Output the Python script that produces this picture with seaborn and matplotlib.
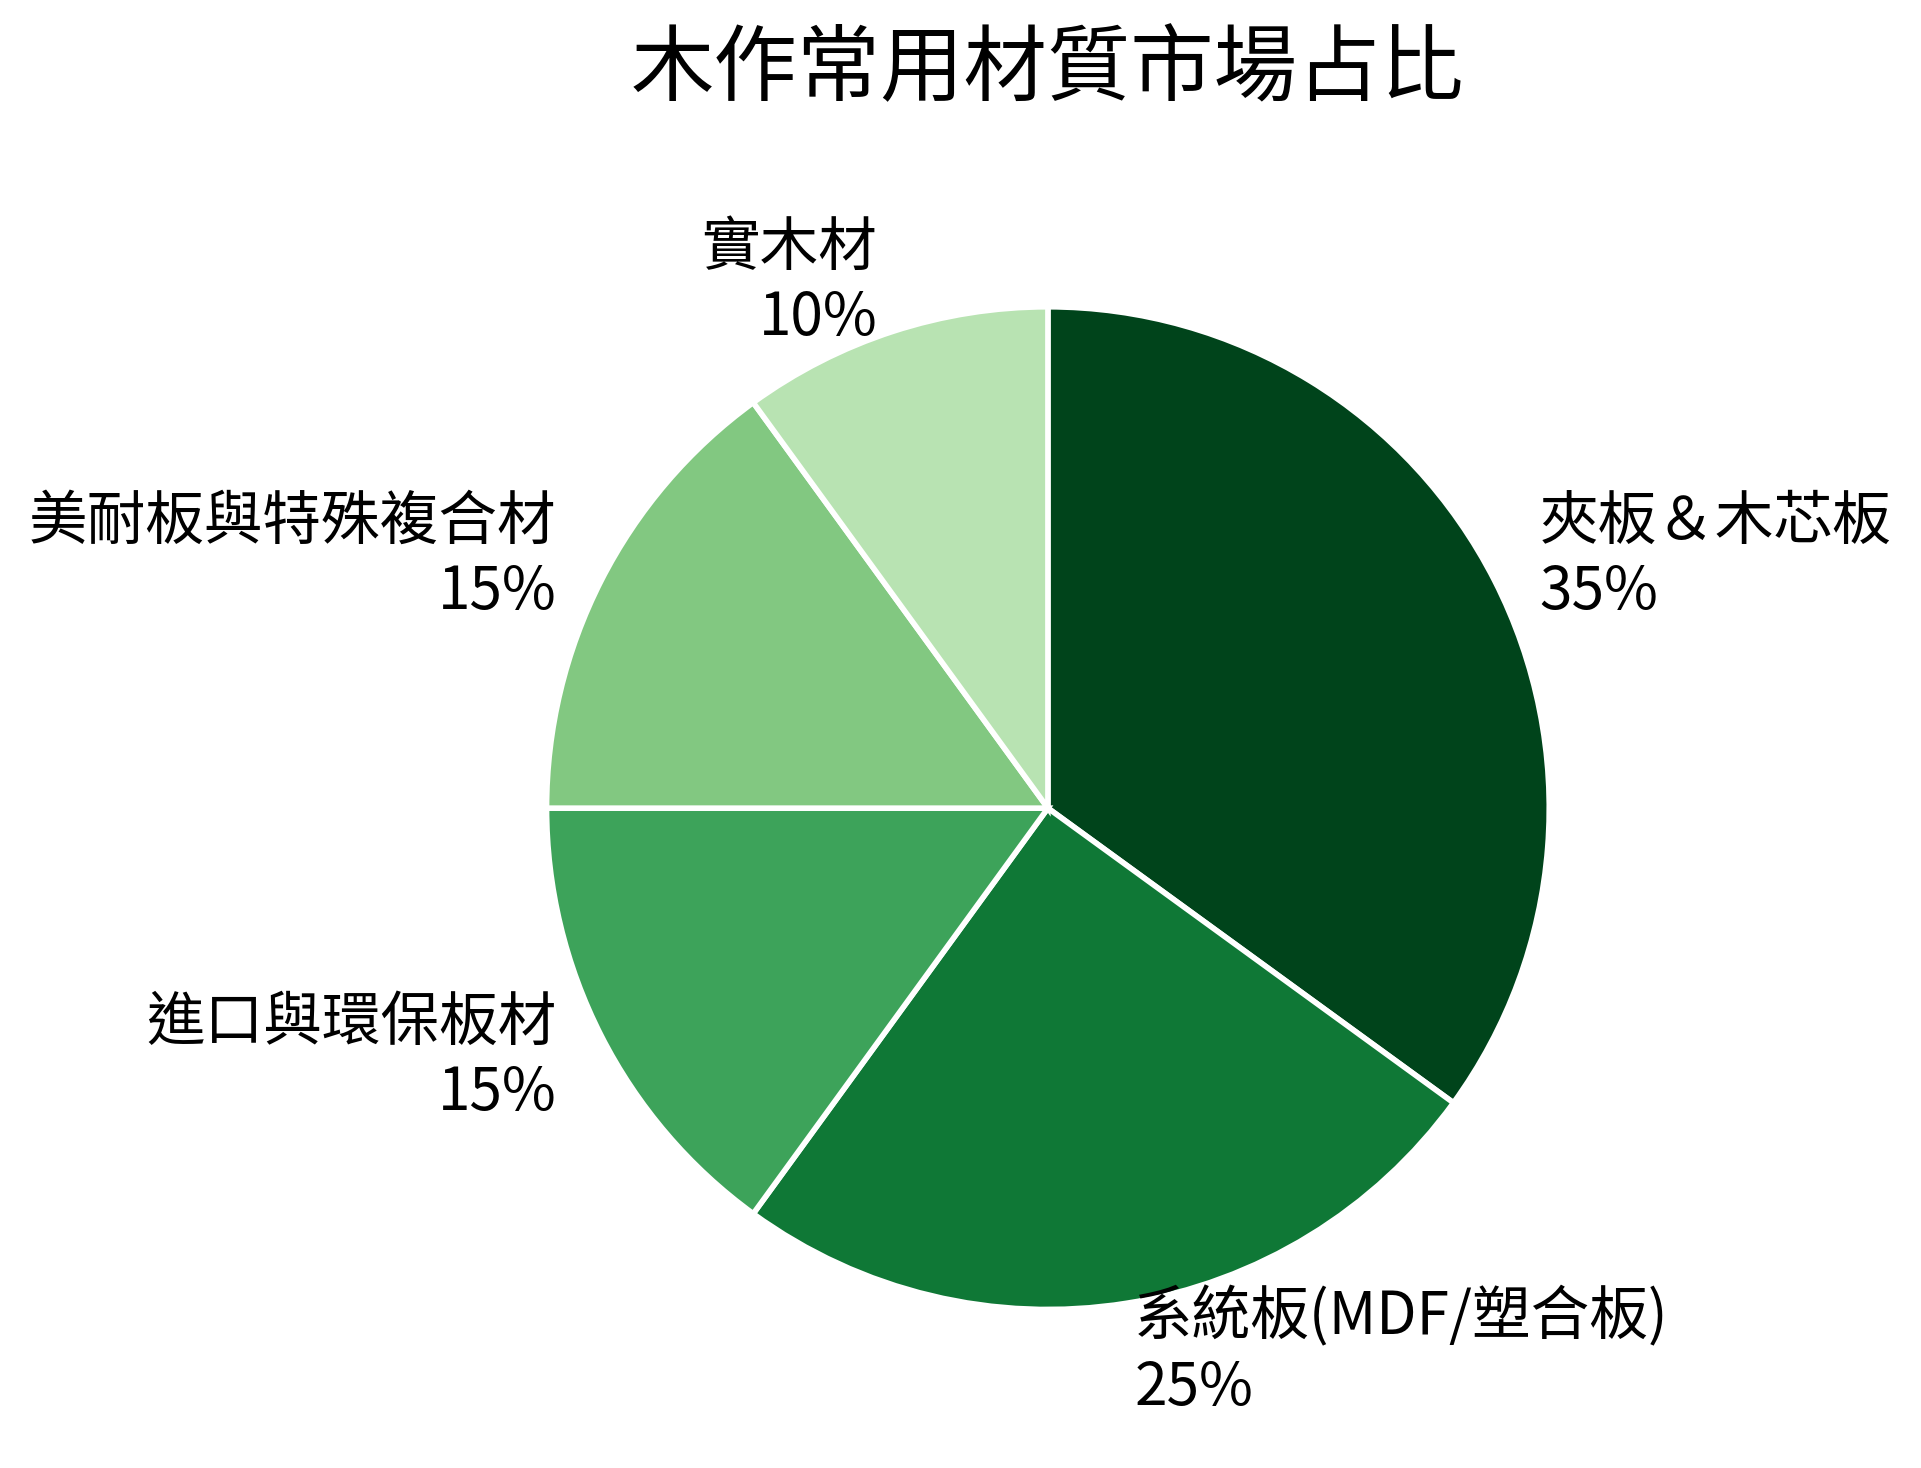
import matplotlib
matplotlib.use("Agg")
import matplotlib.pyplot as plt
import seaborn as sns

# data
materials = ["夾板＆木芯板", "系統板(MDF/塑合板)", "進口與環保板材", "美耐板與特殊複合材", "實木材"]
shares = [35, 25, 15, 15, 10]
colors = ["#00441b", "#0f7836", "#3da35a", "#82c881", "#b8e3b2"]
title = "木作常用材質市場占比"

sns.set_theme(style="white")
plt.rcParams["font.family"] = ["Noto Sans CJK TC", "DejaVu Sans"]
plt.rcParams["text.color"] = "black"

labels = [f"{m}\n{s}%" for m, s in zip(materials, shares)]
palette = sns.color_palette(colors)

fig = plt.figure(figsize=(9.605, 7.34), dpi=200)
ax = fig.add_axes([0.2845, 0.108, 0.522, 0.683])
ax.pie(shares, labels=labels, colors=palette, startangle=90, counterclock=False,
       labeldistance=1.1, wedgeprops=dict(edgecolor="white", linewidth=2),
       textprops=dict(fontsize=21.1, color="black"))
ax.set_xlim(-1, 1)
ax.set_ylim(-1, 1)
ax.axis("off")

fig.text(0.5455, 1 - 70 / 1468, title, ha="center", va="center", fontsize=30, color="black")

fig.savefig("out.png", dpi=200, facecolor="white")
